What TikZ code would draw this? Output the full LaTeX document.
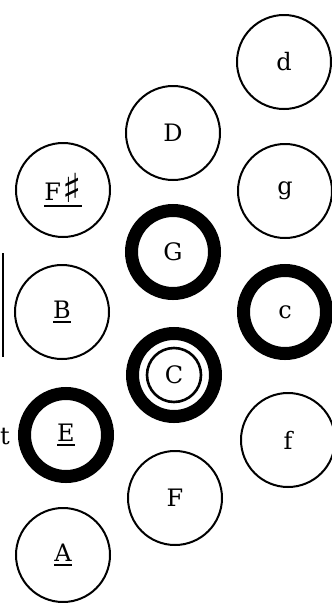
\documentclass[tikz,border=0pt]{standalone}
\usepackage{fontspec}
\setmainfont{DejaVu Serif}
\newfontfamily\symfont{DejaVu Sans}
\newcommand\keyul[1]{\leavevmode\setbox0\hbox{#1}\vtop{\hbox{\copy0}\kern3pt\hrule height 2.2pt width\wd0}}
\begin{document}
\begin{tikzpicture}[x=1pt,y=-1pt,
  keyfont/.style={font=\fontsize{24}{28}\selectfont},
  key/.style={circle,draw=black,line width=2pt,minimum size=94pt,inner sep=0pt,keyfont},
  thick key/.style={circle,draw=black,line width=13pt,minimum size=83pt,inner sep=0pt,keyfont}]
\useasboundingbox (0,0) rectangle (332,603);
\node[key] (d) at (284,62) {d};
\node[key] (D) at (173,133) {D};
\node[key] (Fs) at (63,190) {\keyul{F\kern1pt\raisebox{-2pt}{\symfont\bfseries\fontsize{40}{40}\selectfont ♯}}};
\node[key] (g) at (285,191) {g};
\node[thick key] (G) at (173,252) {G};
\node[key] (B) at (62,312) {\keyul{B}};
\node[thick key] (c) at (285,312) {c};
\node[thick key] (C) at (174,375) {C};
\draw[line width=2.6pt] (C.center) circle (27);
\node[thick key] (E) at (66,435) {\keyul{E}};
\node[key] (f) at (288,440) {f};
\node[key] (F) at (175,498) {F};
\node[key] (A) at (63,555) {\keyul{A}};
\node[anchor=east,inner sep=0pt,keyfont] (t) at (10,437) {t};
\coordinate (l1) at (2.5,253);
\coordinate (l2) at (2.5,357);
\draw[line width=2pt] (l1) -- (l2);
\end{tikzpicture}
\end{document}
